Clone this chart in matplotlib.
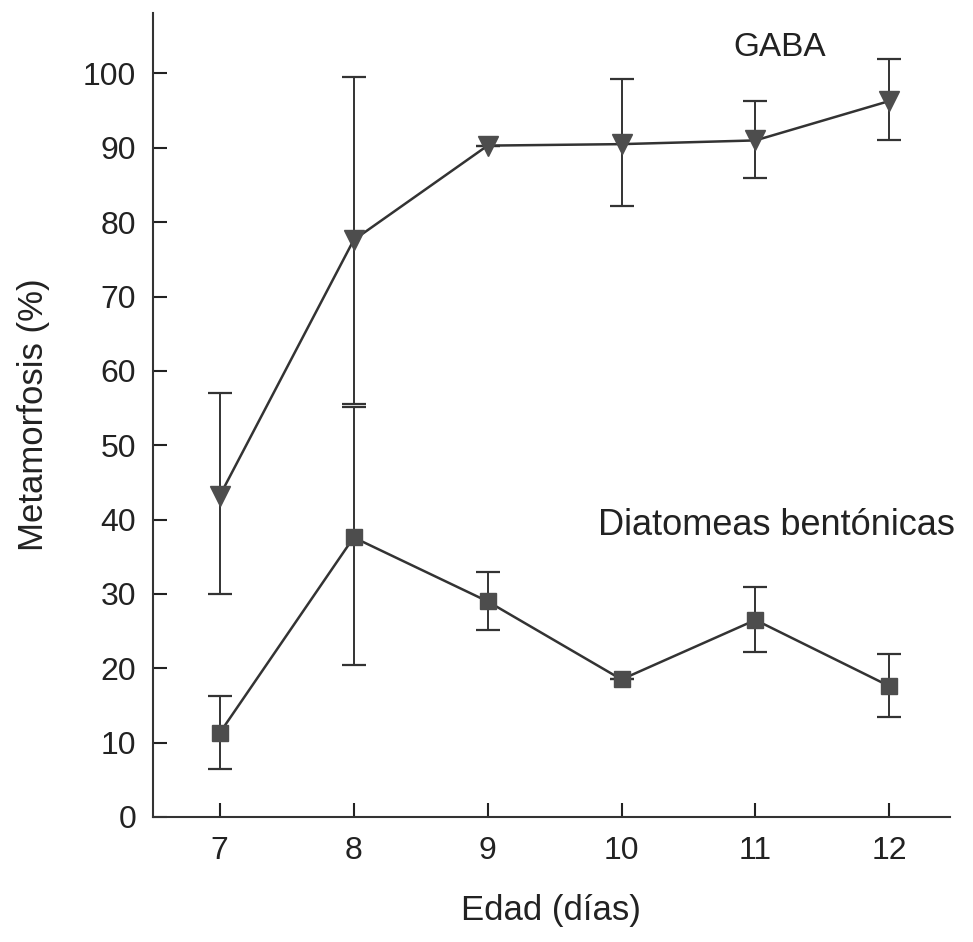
import numpy as np
import matplotlib.pyplot as plt

plt.rcParams['font.family'] = ['Liberation Sans', 'DejaVu Sans']

edad = [7, 8, 9, 10, 11, 12]

gaba = [43.2, 77.6, 90.3, 90.5, 91.0, 96.3]
gaba_sup = [57.0, 99.5, 90.3, 99.3, 96.3, 102.0]
gaba_inf = [30.0, 55.5, 90.3, 82.2, 85.9, 91.0]

diato = [11.3, 37.6, 29.0, 18.5, 26.5, 17.6]
diato_sup = [16.3, 55.1, 33.0, 18.5, 31.0, 21.9]
diato_inf = [6.4, 20.5, 25.2, 18.5, 22.2, 13.5]

color_linea = '#333333'
color_marca = '#4d4d4d'

fig = plt.figure(figsize=(9.73, 9.42), dpi=100)
ax = fig.add_axes([0.157, 0.1327, 0.819, 0.854])


def serie(y, sup, inf, marca, tam):
    y = np.array(y)
    err = [y - np.array(inf), np.array(sup) - y]
    ax.errorbar(edad, y, yerr=err, fmt='none', ecolor=color_linea,
                elinewidth=1.4, capsize=8.5, capthick=1.6, zorder=2)
    ax.plot(edad, y, '-', color=color_linea, lw=1.8, zorder=3)
    ax.plot(edad, y, marca, ms=tam, color=color_marca, mec=color_marca, zorder=4)


serie(gaba, gaba_sup, gaba_inf, 'v', 14.5)
serie(diato, diato_sup, diato_inf, 's', 12)

ax.text(11.18, 103.5, 'GABA', fontsize=24, ha='center', va='center', color='#222222')
ax.text(11.16, 39.2, 'Diatomeas bentónicas', fontsize=26, ha='center', va='center',
        color='#222222', clip_on=False)

ax.set_xlim(6.5, 12.45)
ax.set_ylim(0, 108.2)
ax.set_xticks(edad)
ax.set_yticks(np.arange(0, 101, 10))
ax.tick_params(direction='in', length=10, width=1.5, labelsize=23, colors='#222222', pad=12)
ax.tick_params(axis='x', pad=14)
ax.spines['top'].set_visible(False)
ax.spines['right'].set_visible(False)
for s in ['left', 'bottom']:
    ax.spines[s].set_linewidth(1.5)
    ax.spines[s].set_color('#333333')

ax.set_xlabel('Edad (días)', fontsize=25, labelpad=20, color='#222222')
ax.set_ylabel('Metamorfosis (%)', fontsize=25, labelpad=24, color='#222222')

fig.savefig('out.png', dpi=100)
